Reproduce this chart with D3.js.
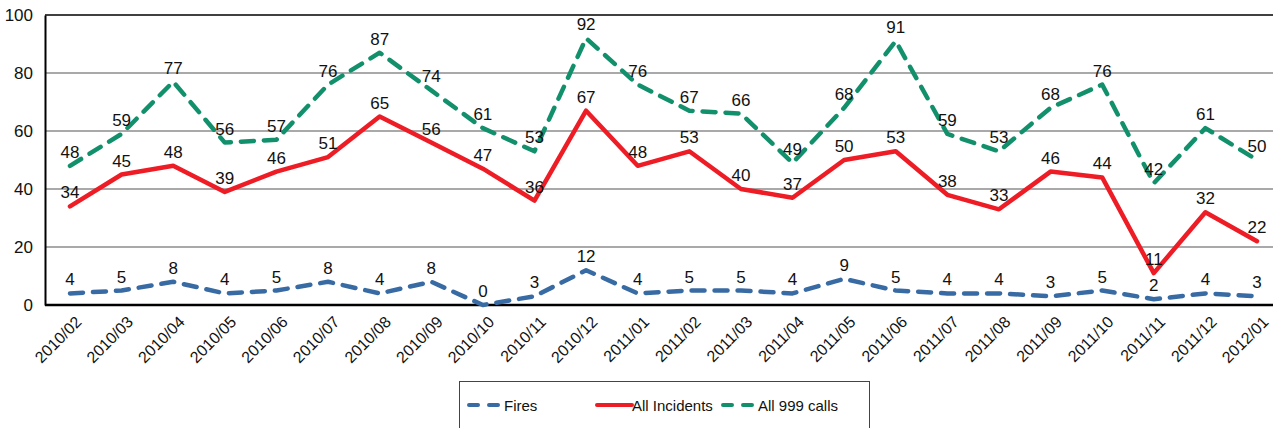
<!DOCTYPE html>
<html>
<head>
<meta charset="utf-8">
<script src="https://cdn.jsdelivr.net/npm/d3@7/dist/d3.min.js"></script>
<style>
  body { margin: 0; background: #fff; }
  text { font-family: "Liberation Sans", Arial, sans-serif; fill: #111; }
</style>
</head>
<body>
<div id="chart-area"></div>
<script>
const months = ["2010/02","2010/03","2010/04","2010/05","2010/06","2010/07","2010/08","2010/09","2010/10","2010/11","2010/12",
  "2011/01","2011/02","2011/03","2011/04","2011/05","2011/06","2011/07","2011/08","2011/09","2011/10","2011/11","2011/12","2012/01"];
const fires = [4,5,8,4,5,8,4,8,0,3,12,4,5,5,4,9,5,4,4,3,5,2,4,3];
const incidents = [34,45,48,39,46,51,65,56,47,36,67,48,53,40,37,50,53,38,33,46,44,11,32,22];
const calls999 = [48,59,77,56,57,76,87,74,61,53,92,76,67,66,49,68,91,59,53,68,76,42,61,50];
const yTicks = [0,20,40,60,80,100];

const series = [
  { name: "Fires", values: fires, color: "#386ba3", dash: "13,10" },
  { name: "All Incidents", values: incidents, color: "#ee1c25", dash: null },
  { name: "All 999 calls", values: calls999, color: "#12906c", dash: "13,10" }
];

const W = 1273, H = 428;
const PLOT = { LEFT: 45, TOP: 15, BOTTOM: 305, RIGHT: 1273 };

const svg = d3.select("#chart-area").append("svg")
  .attr("width", W)
  .attr("height", H)

const x = d3.scalePoint()
  .domain(months)
  .range([70, 1257])

const y = d3.scaleLinear()
  .domain([0, 100])
  .range([PLOT.BOTTOM, PLOT.TOP])

// gridlines
svg.append("g")
  .selectAll("line")
  .data(yTicks.filter(d => d > 0))
  .enter().append("line")
  .attr("x1", PLOT.LEFT)
  .attr("x2", PLOT.RIGHT)
  .attr("y1", d => y(d))
  .attr("y2", d => y(d))
  .attr("stroke", d => d === 100 ? "#000" : "#555")
  .attr("stroke-width", d => d === 100 ? 1.5 : 1.2)

// y axis
const yAxisCall = d3.axisLeft(y)
  .tickValues(yTicks)
  .tickSize(0)
  .tickPadding(12)

const yAxis = svg.append("g")
  .attr("transform", `translate(${PLOT.LEFT}, 0)`)
  .call(yAxisCall)
yAxis.select(".domain").attr("stroke", "#000").attr("stroke-width", 2)
yAxis.selectAll("text").style("font-size", "17px").attr("fill", "#111")

// x axis
const xAxisCall = d3.axisBottom(x).tickSize(0).tickPadding(0)
const xAxis = svg.append("g")
  .attr("transform", `translate(0, ${PLOT.BOTTOM})`)
  .call(xAxisCall)
xAxis.select(".domain").remove()
svg.append("line")
  .attr("x1", PLOT.LEFT).attr("x2", PLOT.RIGHT)
  .attr("y1", PLOT.BOTTOM).attr("y2", PLOT.BOTTOM)
  .attr("stroke", "#000").attr("stroke-width", 2.5)
xAxis.selectAll("text")
  .style("font-size", "16px")
  .attr("fill", "#111")
  .attr("text-anchor", "end")
  .attr("dy", null)
  .attr("y", 0)
  .attr("transform", "translate(9, 15) rotate(-45)")
  .attr("dominant-baseline", "middle")

// lines
const line = d3.line()
  .x((d, i) => x(months[i]))
  .y(d => y(d))

series.forEach(s => {
  svg.append("path")
    .datum(s.values)
    .attr("fill", "none")
    .attr("stroke", s.color)
    .attr("stroke-width", 4.5)
    .attr("stroke-linecap", "round")
    .attr("stroke-linejoin", "round")
    .attr("stroke-dasharray", s.dash)
    .attr("d", line)
})

// data labels
series.forEach(s => {
  svg.append("g")
    .selectAll("text")
    .data(s.values)
    .enter().append("text")
    .attr("x", (d, i) => x(months[i]))
    .attr("y", d => y(d) - 8)
    .attr("text-anchor", "middle")
    .style("font-size", "17px")
    .text(d => d)
})

// legend
const legend = svg.append("g")
svg.append("rect")
  .attr("x", 459.5).attr("y", 381.5)
  .attr("width", 410).attr("height", 60)
  .attr("fill", "none").attr("stroke", "#444").attr("stroke-width", 1)

const legendX = [469, 597, 723];
series.forEach((s, i) => {
  legend.append("line")
    .attr("x1", legendX[i]).attr("x2", legendX[i] + 35)
    .attr("y1", 405).attr("y2", 405)
    .attr("stroke", s.color)
    .attr("stroke-width", 4)
    .attr("stroke-linecap", "round")
    .attr("stroke-dasharray", s.dash ? "9,11" : null)
  legend.append("text")
    .attr("x", legendX[i] + 35)
    .attr("y", 410.5)
    .style("font-size", "15px")
    .text(s.name)
})
</script>
</body>
</html>
